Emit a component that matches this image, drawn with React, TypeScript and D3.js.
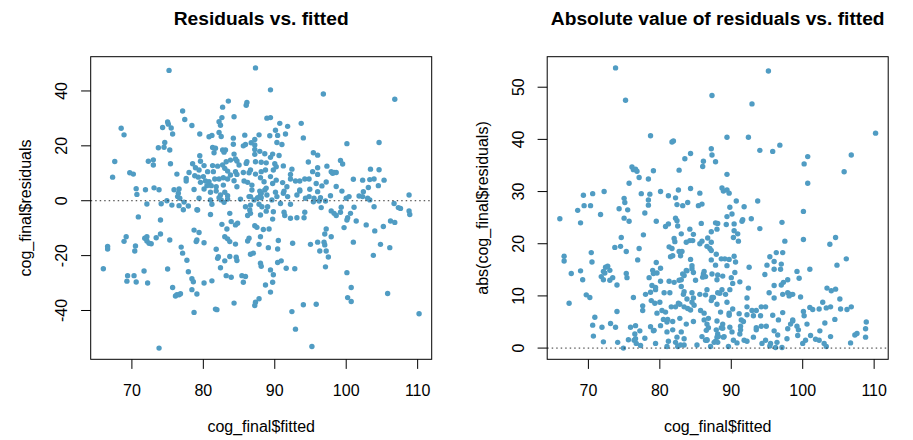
import React from 'react';
import * as d3 from 'd3';

// fitted values and residuals (same order in both arrays)
const fitted = [
  75.2, 77.1, 77.4, 68.5, 68.9, 74.3, 75.0, 75.1, 75.5, 75.7,
  78.4, 79.5, 74.6, 73.7, 74.5, 75.3, 67.6, 67.3, 72.3, 73.0,
  73.0, 69.7, 70.2, 75.4, 76.3, 77.6, 77.6, 78.5, 78.9, 79.4,
  79.3, 79.5, 79.6, 70.6, 70.7, 71.9, 73.1, 73.8, 75.9, 76.6,
  76.5, 76.4, 76.7, 78.7, 72.1, 74.1, 74.9, 75.6, 76.6, 77.3,
  77.9, 78.0, 78.8, 79.6,
  77.2, 79.1, 70.9, 74.0, 69.2, 68.9, 66.6, 66.6, 70.5, 70.4,
  71.8, 72.1, 72.1, 72.4, 72.7, 73.4, 74.0, 75.3, 76.9, 77.1,
  77.7, 78.7, 79.0, 79.1, 79.4, 66.0, 69.4, 69.3, 70.3, 70.6,
  71.7, 72.2, 75.0, 75.7, 76.1, 76.3, 76.6, 76.8, 77.9, 78.4,
  78.6, 78.4, 79.1, 78.7, 73.8,
  87.3, 89.4, 83.5, 82.7, 86.1, 86.0, 84.3, 82.6, 82.2, 82.4,
  88.9, 89.4, 90.7, 91.8, 93.7, 90.1, 89.3, 90.4, 91.5, 90.3,
  91.0, 94.0, 80.8, 81.2, 82.2, 82.5, 84.2, 84.2, 85.8, 87.8,
  87.2, 86.7, 85.9, 85.6, 81.3, 81.7, 81.5, 82.7, 83.1, 82.9,
  87.2, 87.2, 87.2, 87.9, 88.6, 89.7, 90.6, 89.4, 95.4, 96.0,
  94.7, 95.3, 96.0, 96.0, 92.4, 84.3, 84.5, 83.8, 83.2, 84.7,
  85.0, 86.1, 86.0, 87.3, 88.1, 88.8, 90.0, 90.2, 89.8, 88.7,
  81.3, 81.4, 82.0, 82.7, 83.0, 83.4, 84.5, 83.8, 84.7, 85.6,
  86.4, 86.6, 87.3, 88.1, 88.0, 89.4, 89.7, 90.2, 91.1, 91.7,
  92.2, 92.9, 93.5, 94.2, 94.8, 93.5, 94.9, 96.0, 80.1, 80.6,
  80.0, 80.3, 80.8, 81.6, 82.2, 82.8, 83.4, 84.3, 84.7, 85.7,
  86.2, 86.8, 86.8, 87.9, 88.5, 88.8, 82.8, 81.8, 81.1, 80.5,
  80.1, 81.0, 81.8, 82.4, 83.0, 83.4, 85.2, 86.4, 87.6, 88.1,
  88.9, 90.3, 91.2, 91.8, 93.1, 94.8, 88.6, 90.1, 91.3, 93.5,
  88.0, 95.5, 92.2, 91.2,
  96.8, 106.8, 100.1, 104.6, 97.3, 99.2, 99.5, 97.9, 98.3, 98.6,
  98.1, 103.4, 104.6, 95.8, 96.6, 97.2, 98.6, 99.4, 101.0, 102.3,
  103.3, 103.9, 105.3, 103.1, 104.5, 102.4, 108.8,
  95.4, 96.4, 96.2, 97.1, 97.8, 100.0, 100.4, 101.8, 102.3, 103.0,
  103.3, 106.7, 107.3, 107.6, 108.8, 108.9, 96.5, 97.9, 98.3, 98.6,
  99.2, 99.3, 101.1, 100.6, 100.2, 100.1, 101.4, 103.9, 102.8, 104.0,
  105.2, 106.2, 106.8, 99.7, 97.2, 97.0, 97.9, 96.0, 96.9, 97.0,
  96.3, 97.2, 97.5, 95.0, 101.0, 104.8, 106.1, 103.8, 97.1, 100.1,
  100.7, 100.2, 100.7, 105.8, 95.8, 110.2, 95.2,
  79.4, 81.0, 81.2, 82.2, 82.5, 82.9, 83.4, 85.9, 86.6, 86.6,
  87.1, 87.8, 88.1, 88.2, 89.0, 89.6, 90.8, 92.2, 94.3, 79.2,
  81.0, 83.7, 86.5, 86.6, 86.2, 88.0, 88.8, 89.8, 89.7, 91.3,
  91.4, 92.2, 93.1, 94.1, 94.2, 82.6, 83.3, 83.9, 84.5, 84.8,
  87.2, 87.5, 88.4, 89.2, 88.0, 86.4, 86.2, 80.1, 83.0, 83.4,
  83.7, 84.5, 81.8, 82.1, 82.0, 83.0, 82.4, 83.2, 83.9, 85.4,
  85.9, 85.6, 84.6, 84.7, 86.6, 87.0, 88.0, 88.1, 89.4, 89.8,
  90.4, 90.9, 90.5, 90.4, 89.1, 87.8, 88.7, 89.7, 89.4, 91.6,
  92.8, 92.5, 80.1, 81.2, 81.7, 81.9, 84.3, 87.3, 87.2, 87.8,
  92.4, 94.0, 92.9, 83.7,
];

const residuals = [
  47.5, 32.7, 29.6, 26.4, 24.0, 26.7, 28.7, 27.9, 26.5, 24.3,
  27.4, 24.3, 21.2, 19.3, 19.5, 18.5, 14.3, 8.6, 14.4, 14.9,
  13.0, 10.2, 9.7, 13.5, 9.7, 8.1, 7.2, 13.5, 12.0, 11.2,
  8.6, 16.4, 14.4, 4.4, 2.3, 4.0, 4.7, 4.0, 4.0, 4.3,
  2.7, 1.5, 0.9, 4.1, -1.2, -1.1, 0.0, -1.6, -1.8, -0.5,
  -1.9, 10.3, 9.1, 6.7,
  -3.3, -3.3, -5.9, -7.0, -13.1, -14.8, -16.7, -17.6, -16.5, -18.3,
  -13.7, -13.1, -14.7, -15.5, -15.7, -13.5, -12.1, -14.3, -16.9, -19.1,
  -21.7, -10.7, -14.9, -14.3, -11.6, -24.8, -27.3, -29.3, -27.3, -29.6,
  -25.6, -30.0, -24.9, -31.6, -34.7, -34.2, -34.3, -33.9, -25.9, -28.4,
  -29.5, -32.4, -34.0, -40.7, -53.7,
  48.4, 40.4, 36.3, 34.1, 35.8, 34.8, 30.6, 30.3, 28.8, 27.5,
  30.1, 30.3, 28.2, 27.1, 28.2, 25.7, 23.7, 23.8, 24.3, 21.2,
  20.5, 22.9, 23.3, 23.8, 24.9, 23.4, 22.8, 20.6, 23.9, 24.0,
  22.3, 21.1, 20.5, 20.0, 19.4, 19.1, 17.5, 18.5, 18.5, 17.7,
  20.3, 18.7, 16.9, 18.0, 17.1, 17.0, 16.5, 15.8, 17.5, 16.6,
  14.1, 10.6, 12.0, 9.6, 11.5, 17.0, 15.2, 14.8, 14.2, 14.5,
  13.0, 14.2, 13.6, 14.2, 14.0, 13.8, 13.5, 12.4, 11.2, 11.2,
  12.8, 10.6, 12.6, 13.0, 11.8, 10.8, 10.6, 9.4, 9.6, 10.3,
  10.2, 11.2, 9.7, 10.6, 8.4, 8.8, 6.3, 7.5, 6.6, 5.1,
  7.9, 7.2, 7.2, 7.9, 7.9, 3.5, 4.2, 3.3, 12.8, 10.6,
  8.8, 7.2, 6.9, 7.9, 7.9, 8.4, 7.9, 7.3, 5.1, 7.2,
  6.7, 5.7, 3.9, 3.5, 6.9, 4.6, 5.7, 5.1, 5.5, 5.5,
  4.3, 3.1, 3.5, 2.1, 3.1, 1.8, 0.6, 1.5, 1.1, 2.7,
  2.1, 1.5, 2.7, 1.5, 2.1, 1.5, 3.9, 3.1, 3.5, 3.9,
  2.1, 0.9, 9.6, 12.7,
  38.9, 37.0, 20.8, 21.2, 12.6, 14.7, 13.4, 10.6, 10.3, 10.3,
  10.0, 11.5, 11.3, 6.3, 5.4, 6.8, 5.2, 3.5, 7.8, 7.5,
  7.7, 7.9, 7.5, 4.8, 5.5, 3.3, 2.1,
  -0.4, 1.1, -0.1, -0.1, 1.8, 0.9, 1.5, 1.7, 1.5, 0.9,
  0.3, -1.0, -2.5, -2.8, -3.7, -5.0, -2.5, -3.7, -4.6, -5.4,
  -4.2, -2.4, -2.4, -4.6, -6.2, -7.0, -7.4, -2.2, -8.8, -11.0,
  -9.4, -7.4, -7.9, -9.8, -10.3, -12.1, -13.1, -15.1, -15.1, -16.1,
  -18.3, -18.3, -20.5, -15.9, -15.1, -15.9, -17.1, -19.9, -24.1, -26.2,
  -31.6, -35.3, -36.7, -33.8, -37.7, -41.2, -53.1,
  0.9, 0.3, -1.3, 1.1, 0.3, -0.6, 0.6, -2.2, 1.5, -1.6,
  0.3, -1.3, 1.1, -2.2, -2.2, 0.3, -1.0, -1.3, 0.9, -3.4,
  -5.0, -4.6, -3.4, -4.6, -5.4, -5.2, -3.8, -4.0, -6.7, -4.2,
  -5.4, -6.4, -6.2, -6.2, -4.2, -8.6, -10.3, -7.6, -8.8, -8.2,
  -9.1, -9.7, -10.5, -10.3, -13.1, -13.7, -14.7, -15.3, -13.1, -13.9,
  -14.9, -15.8, -17.7, -20.4, -21.0, -21.9, -24.4, -27.3, -27.9, -27.3,
  -27.6, -29.7, -20.6, -21.8, -19.5, -19.1, -22.8, -23.9, -25.2, -27.0,
  -22.5, -21.9, -14.5, -17.6, -17.1, -15.9, -30.7, -29.7, -33.3, -24.6,
  -24.8, -15.5, -30.0, -29.2, -39.5, -39.7, -37.3, -37.0, -38.2, -35.7,
  -40.4, -37.9, -46.8, -20.3,
];

const absResiduals = residuals.map(Math.abs);

const xTicks = [70, 80, 90, 100, 110];
const residTicks = [-40, -20, 0, 20, 40];
const absTicks = [0, 10, 20, 30, 40, 50];

const W = 913;
const H = 440;
const panelW = W / 2;
const margin = { top: 56.7, right: 24.8, bottom: 80.7, left: 90.7 };
const dotColor = '#509cc3';
const font = '"Liberation Sans", Arial, Helvetica, sans-serif';

// R-style axis range: data extent padded by 4% on each side
const rRange = (vals: number[]): [number, number] => {
  const [lo, hi] = d3.extent(vals) as [number, number];
  const pad = (hi - lo) * 0.04;
  return [lo - pad, hi + pad];
};

type PanelProps = {
  x0: number;
  title: string;
  yLabel: string;
  yValues: number[];
  yTicks: number[];
};

const Panel = ({ x0, title, yLabel, yValues, yTicks }: PanelProps) => {
  const left = x0 + margin.left;
  const right = x0 + panelW - margin.right;
  const top = margin.top;
  const bottom = H - margin.bottom;

  const x = d3.scaleLinear().domain(rRange(fitted)).range([left, right]);
  const y = d3.scaleLinear().domain(rRange(yValues)).range([bottom, top]);
  const n = Math.min(fitted.length, yValues.length);
  const idx = d3.range(n);

  return (
    <g>
      <text x={(left + right) / 2} y={25} textAnchor="middle" fontWeight="bold" fontSize={19.2}>
        {title}
      </text>

      {idx.map(i => (
        <circle key={i} cx={x(fitted[i])} cy={y(yValues[i])} r={2.7} fill={dotColor} />
      ))}

      <line x1={left} x2={right} y1={y(0)} y2={y(0)} stroke="#333" strokeDasharray="1.5 3" />

      <rect x={left} y={top} width={right - left} height={bottom - top} fill="none" stroke="#000" />

      {xTicks.map(t => (
        <g key={t}>
          <line x1={x(t)} x2={x(t)} y1={bottom} y2={bottom + 9.6} stroke="#000" />
          <text x={x(t)} y={395.5} textAnchor="middle" fontSize={16}>{t}</text>
        </g>
      ))}
      <text x={(left + right) / 2} y={431.5} textAnchor="middle" fontSize={16}>cog_final$fitted</text>

      {yTicks.map(t => (
        <g key={t}>
          <line x1={left - 9.6} x2={left} y1={y(t)} y2={y(t)} stroke="#000" />
          <text transform={`translate(${left - 23.4},${y(t)}) rotate(-90)`} textAnchor="middle" fontSize={16}>
            {t}
          </text>
        </g>
      ))}
      <text transform={`translate(${x0 + 31},${(top + bottom) / 2}) rotate(-90)`} textAnchor="middle" fontSize={16}>
        {yLabel}
      </text>
    </g>
  );
};

export default function App() {
  return (
    <svg
      width={W}
      height={H}
      style={{ position: 'absolute', left: 0, top: 0, background: '#fff' }}
      fontFamily={font}
    >
      <rect width={W} height={H} fill="#fff" />
      <Panel
        x0={0}
        title="Residuals vs. fitted"
        yLabel="cog_final$residuals"
        yValues={residuals}
        yTicks={residTicks}
      />
      <Panel
        x0={panelW}
        title="Absolute value of residuals vs. fitted"
        yLabel="abs(cog_final$residuals)"
        yValues={absResiduals}
        yTicks={absTicks}
      />
    </svg>
  );
}
